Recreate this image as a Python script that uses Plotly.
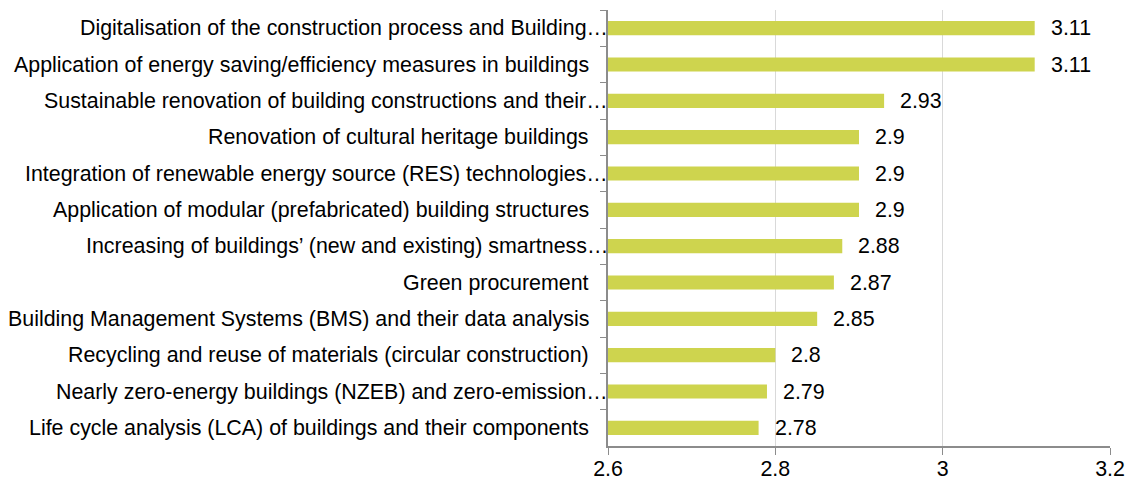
import plotly.graph_objects as go

# Topics, listed top to bottom, with their mean scores
topics = [
    "Digitalisation of the construction process and Building…",
    "Application of energy saving/efficiency measures in buildings",
    "Sustainable renovation of building constructions and their…",
    "Renovation of cultural heritage buildings",
    "Integration of renewable energy source (RES) technologies…",
    "Application of modular (prefabricated) building structures",
    "Increasing of buildings’ (new and existing) smartness…",
    "Green procurement",
    "Building Management Systems (BMS) and their data analysis",
    "Recycling and reuse of materials (circular construction)",
    "Nearly zero-energy buildings (NZEB) and zero-emission…",
    "Life cycle analysis (LCA) of buildings and their components",
]
scores = [3.11, 3.11, 2.93, 2.9, 2.9, 2.9, 2.88, 2.87, 2.85, 2.8, 2.79, 2.78]
score_labels = ["3.11", "3.11", "2.93", "2.9", "2.9", "2.9", "2.88", "2.87", "2.85", "2.8", "2.79", "2.78"]

x_ticks = [2.6, 2.8, 3.0, 3.2]
x_tick_text = ["2.6", "2.8", "3", "3.2"]

FONT = "Liberation Sans, Arial, sans-serif"
FSIZE = 21.4
BAR_COLOR = "#CED44E"
AXIS_COLOR = "#8C8C8C"

fig = go.Figure(
    go.Bar(
        x=scores,
        y=topics,
        orientation="h",
        marker=dict(color=BAR_COLOR, line=dict(width=0)),
        width=0.39,
        hoverinfo="skip",
    )
)

# value labels to the right of each bar
for t, v, lab in zip(topics, scores, score_labels):
    fig.add_annotation(
        x=v, y=t, text=lab, showarrow=False,
        xanchor="left", yanchor="middle", xshift=14,
        font=dict(family=FONT, size=FSIZE, color="#000000"),
    )

# category labels, right-aligned against the value axis;
# the trailing ellipsis of shortened names hangs past the text edge
for t in topics:
    fig.add_annotation(
        x=0, xref="paper", y=t, text=t, showarrow=False,
        xanchor="right", yanchor="middle",
        xshift=2 if t.endswith("…") else -17,
        font=dict(family=FONT, size=FSIZE, color="#000000"),
    )

fig.update_layout(
    width=1135,
    height=483,
    margin=dict(l=608, r=25, t=10, b=37),
    paper_bgcolor="white",
    plot_bgcolor="white",
    showlegend=False,
    font=dict(family=FONT, size=FSIZE, color="#000000"),
    bargap=0.61,
)

fig.update_xaxes(
    range=[2.6, 3.2],
    tickvals=x_ticks,
    ticktext=x_tick_text,
    automargin=False,
    showgrid=True,
    gridcolor="#D9D9D9",
    gridwidth=1,
    zeroline=False,
    showline=True,
    linecolor=AXIS_COLOR,
    linewidth=1.5,
    ticks="outside",
    ticklen=7,
    tickcolor=AXIS_COLOR,
    ticklabelstandoff=-4,
    tickfont=dict(family=FONT, size=FSIZE, color="#000000"),
)

fig.update_yaxes(
    autorange="reversed",
    type="category",
    automargin=False,
    showgrid=False,
    showline=True,
    linecolor=AXIS_COLOR,
    linewidth=1.5,
    ticks="outside",
    tickson="boundaries",
    ticklen=6,
    tickcolor=AXIS_COLOR,
    showticklabels=False,
)

fig.write_html("out.html")
